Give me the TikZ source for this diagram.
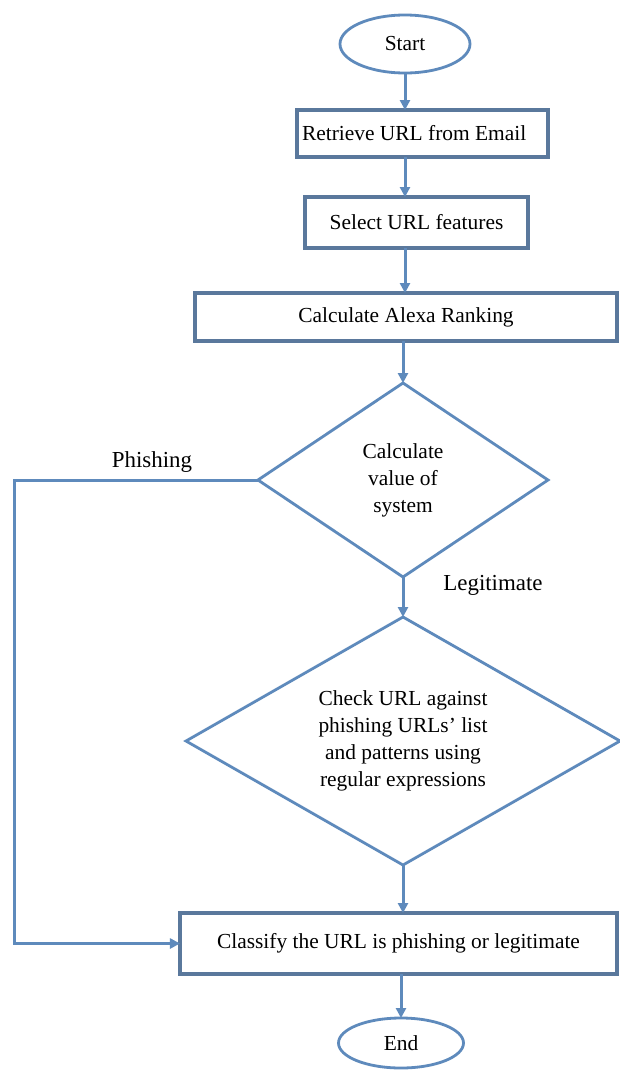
\documentclass[tikz,border=0pt]{standalone}
\usepackage{fontspec}
\setmainfont{Liberation Serif}
\usetikzlibrary{shapes.geometric,arrows.meta}
\definecolor{lineblue}{RGB}{94,138,188}
\definecolor{boxblue}{RGB}{90,120,156}
\begin{document}
\begin{tikzpicture}[x=1bp,y=1bp,
  font=\fontsize{21.5}{27}\selectfont,
  every node/.style={inner sep=0pt, outer sep=0pt},
  proc/.style={draw=boxblue, line width=3.2bp, rectangle, align=center},
  term/.style={draw=lineblue, line width=2.8bp, ellipse},
  decis/.style={draw=lineblue, line width=2.8bp, diamond, align=center},
  conn/.style={draw=lineblue, line width=3bp, -{Triangle[length=10bp,width=10bp]}},
  lbl/.style={font=\fontsize{23}{27}\selectfont}]
\useasboundingbox (0,0) rectangle (620,-1070);
\fill[white] (0,0) rectangle (620,-1070);

\node[term, minimum width=130bp, minimum height=58bp] (start) at (405,-44) {Start};
\node[proc, minimum height=47bp, text width=241bp, inner xsep=5bp, align=flush left] (retr) at (422.5,-133.5) {Retrieve URL from Email};
\node[proc, minimum width=223bp, minimum height=51bp] (sel) at (416.5,-222.5) {Select URL features};
\node[proc, minimum width=422bp, minimum height=48bp] (alexa) at (406,-317) {Calculate Alexa Ranking};
\node[decis, minimum width=290bp, minimum height=194bp, aspect=1.5] (d1) at (403,-480) {Calculate\\value of\\system};
\node[decis, minimum width=434bp, minimum height=248bp, aspect=1.75] (d2) at (403,-741) {Check URL against\\phishing URLs’ list\\and patterns using\\regular expressions};
\node[proc, minimum width=437bp, minimum height=61bp] (cls) at (398.5,-943.5) {Classify the URL is phishing or legitimate};
\node[term, minimum width=125bp, minimum height=50bp] (end) at (401,-1043) {End};

\node[lbl] (phish) at (152,-462) {Phishing};
\node[lbl] (legit) at (493,-585) {Legitimate};

\coordinate (lft) at (14,-480);

\draw[conn] (start.south) -- (start.south |- retr.north);
\draw[conn] (start.south |- retr.south) -- (start.south |- sel.north);
\draw[conn] (start.south |- sel.south) -- (start.south |- alexa.north);
\draw[conn] (d1.north |- alexa.south) -- (d1.north);
\draw[conn] (d1.south) -- (d2.north);
\draw[conn] (d2.south) -- (d2.south |- cls.north);
\draw[conn] (end.north |- cls.south) -- (end.north);
\draw[conn] (d1.west) -- (lft) |- (cls.west);
\end{tikzpicture}
\end{document}
